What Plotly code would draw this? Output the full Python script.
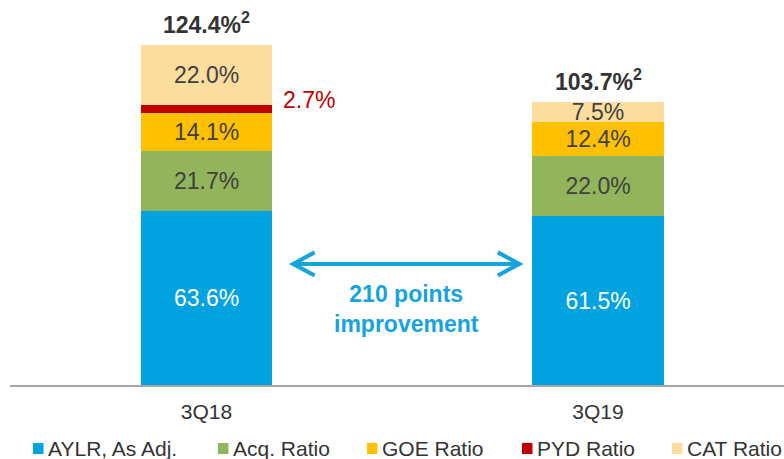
import plotly.graph_objects as go

categories = ["3Q18", "3Q19"]
aylr = [63.6, 61.5]
acq = [21.7, 22.0]
goe = [14.1, 12.4]
pyd = [2.7, 0.0]
cat = [22.0, 7.5]
totals = [124.4, 103.7]
series_names = ["AYLR, As Adj.", "Acq. Ratio", "GOE Ratio", "PYD Ratio", "CAT Ratio"]
improvement_text = "210 points<br>improvement"

FONT = "Liberation Sans, Arial, sans-serif"
DARK = "#404040"
ARROW_BLUE = "#17A2E0"
colors = ["#00A3E0", "#92B55B", "#FFC000", "#C00000", "#FCDD9D"]
text_colors = ["white", DARK, DARK, DARK, DARK]
show_inside = [True, True, True, False, True]
values = [aylr, acq, goe, pyd, cat]

# layout geometry (pixels)
W, H = 784, 459
ML, MR, MT, MB = 10, 0, 0, 74
PW, PH = W - ML - MR, H - MT - MB

fig = go.Figure()
for name, vals, color, tcolor, show_text in zip(series_names, values, colors, text_colors, show_inside):
    fig.add_trace(go.Bar(
        x=categories, y=vals, name=name,
        marker=dict(color=color, line=dict(width=0)),
        width=0.335,
        text=[f"{v:.1f}%" for v in vals] if show_text else None,
        textposition="inside" if show_text else "none",
        insidetextanchor="middle",
        constraintext="none",
        textfont=dict(family=FONT, size=23, color=tcolor),
        hoverinfo="skip",
        showlegend=False,
    ))

annotations = []
for c, t in zip(categories, totals):
    annotations.append(dict(
        x=c, y=t, xref="x", yref="y",
        text=f"<b>{t:.1f}%</b><sup><b>2</b></sup>",
        showarrow=False, yanchor="middle", yshift=21,
        font=dict(family=FONT, size=23, color="#333333"),
    ))

# PYD label outside the first bar
pyd_mid = aylr[0] + acq[0] + goe[0] + pyd[0] / 2
annotations.append(dict(
    x=0.1675, y=pyd_mid, xref="x", yref="y",
    text=f"{pyd[0]:.1f}%", showarrow=False,
    xanchor="left", yanchor="middle", xshift=9, yshift=9,
    font=dict(family=FONT, size=23, color="#C00000"),
))

annotations.append(dict(
    x=0.51, y=27.6, xref="x", yref="y",
    text=f"<b>{improvement_text}</b>", showarrow=False,
    font=dict(family=FONT, size=23, color=ARROW_BLUE),
    align="center", yanchor="middle",
))

# double-headed arrow
xl, xr, ya = 0.221, 0.799, 44.2
dx, dy = 0.055, 4.2
shapes = [
    dict(type="line", xref="x", yref="y", x0=xl + 0.004, x1=xr - 0.004, y0=ya, y1=ya,
         line=dict(color=ARROW_BLUE, width=4)),
    dict(type="path", xref="x", yref="y",
         path=f"M {xl+dx},{ya+dy} L {xl},{ya} L {xl+dx},{ya-dy}",
         line=dict(color=ARROW_BLUE, width=4)),
    dict(type="path", xref="x", yref="y",
         path=f"M {xr-dx},{ya+dy} L {xr},{ya} L {xr-dx},{ya-dy}",
         line=dict(color=ARROW_BLUE, width=4)),
]

# manual legend (square + label)
legend_px = [33, 218, 367, 522, 672]
leg_y = 448.5
for name, color, px in zip(series_names, colors, legend_px):
    x0 = (px - ML) / PW
    x1 = (px + 10.5 - ML) / PW
    shapes.append(dict(type="rect", xref="paper", yref="paper",
                       x0=x0, x1=x1,
                       y0=(H - MB - (leg_y + 5.5)) / PH, y1=(H - MB - (leg_y - 5.5)) / PH,
                       fillcolor=color, line=dict(width=0)))
    annotations.append(dict(
        x=(px + 13 - ML) / PW, y=(H - MB - leg_y) / PH, xref="paper", yref="paper",
        text=name, showarrow=False, xanchor="left", yanchor="middle",
        font=dict(family=FONT, size=21, color="#333333"),
    ))

fig.update_layout(
    width=W, height=H,
    barmode="stack",
    plot_bgcolor="white", paper_bgcolor="white",
    margin=dict(l=ML, r=MR, t=MT, b=MB, autoexpand=False),
    font=dict(family=FONT, size=21, color="#333333"),
    showlegend=False,
    annotations=annotations,
    shapes=shapes,
    xaxis=dict(range=[-0.502, 1.475], showline=True, linecolor="#A6A6A6", linewidth=2,
               ticks="outside", ticklen=7, tickcolor="rgba(0,0,0,0)",
               tickfont=dict(family=FONT, size=21, color="#333333"), showgrid=False),
    yaxis=dict(range=[0, 140.5], visible=False),
)

fig.write_html("out.html", config={"displayModeBar": False},
               post_script="document.body.style.margin='0';document.body.style.overflow='hidden';")
